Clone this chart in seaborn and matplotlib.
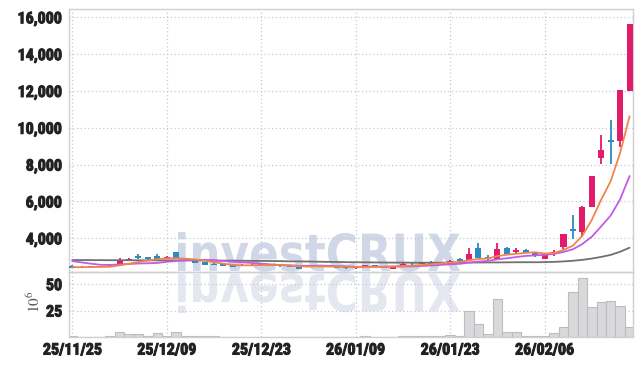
import numpy as np
import pandas as pd
import matplotlib
matplotlib.use("Agg")
import matplotlib.pyplot as plt
import matplotlib.patheffects as pe
import seaborn as sns
from matplotlib import font_manager as fm
from matplotlib.textpath import TextPath
from matplotlib.patches import PathPatch
from matplotlib.font_manager import FontProperties
from matplotlib.transforms import Affine2D, IdentityTransform

# ---------------- data ----------------
date_ticks = [0, 10, 20, 30, 40, 50]
date_labels = ["25/11/25", "25/12/09", "25/12/23", "26/01/09", "26/01/23", "26/02/06"]

opens = [2514, 2406, 2478, 2440, 2605, 2532, 2786, 3057, 3003, 3039,
         2894, 3256, 2858, 2786, 2713, 2623, 2605, 2532, 2478, 2496,
         2551, 2587, 2551, 2514, 2460, 2460, 2460, 2496, 2460, 2442,
         2370, 2478, 2532, 2496, 2351, 2478, 2623, 2587, 2695, 2623,
         2586, 2894, 2821, 3491, 3003, 2894, 3491, 3238, 3383, 3202,
         2894, 3129, 3509, 4505, 4324, 5718, 8379, 9338, 9302, 12017]
closes = [2406, 2460, 2424, 2460, 2532, 2786, 2876, 2912, 2858, 2894,
          3003, 2912, 2804, 2659, 2569, 2569, 2514, 2460, 2550, 2568,
          2641, 2496, 2478, 2442, 2351, 2551, 2551, 2442, 2388, 2370,
          2460, 2551, 2478, 2406, 2460, 2587, 2587, 2695, 2623, 2713,
          2785, 2785, 3147, 2948, 2858, 3437, 3147, 3383, 3220, 3021,
          3093, 3274, 4233, 4379, 5718, 7401, 8795, 9248, 12053, 15637]
highs = [2540, 2478, 2490, 2470, 2620, 2912, 2949, 3148, 3010, 3130,
         3040, 3260, 2870, 2820, 2730, 2680, 2620, 2545, 2600, 2580,
         2660, 2600, 2570, 2530, 2470, 2560, 2570, 2510, 2470, 2450,
         2480, 2570, 2545, 2510, 2470, 2641, 2713, 2710, 2750, 2730,
         2800, 2948, 3455, 3727, 3090, 3727, 3545, 3455, 3400, 3220,
         3110, 3365, 4240, 5265, 5730, 7410, 9591, 10424, 12060, 15640]
lows = [2370, 2390, 2410, 2430, 2520, 2496, 2750, 2858, 2840, 2880,
        2860, 2900, 2790, 2640, 2550, 2530, 2500, 2440, 2470, 2480,
        2540, 2480, 2460, 2430, 2340, 2450, 2440, 2430, 2370, 2360,
        2360, 2470, 2460, 2390, 2340, 2470, 2569, 2580, 2610, 2610,
        2570, 2770, 2800, 2930, 2768, 2858, 3130, 3147, 3200, 2966,
        2880, 3057, 3419, 3962, 4089, 5700, 8017, 8053, 8976, 12000]
# volume in millions of shares
volumes = [1.0, 0.2, 0.2, 0.3, 0.7, 5.0, 3.2, 3.2, 0.7, 4.2,
           0.7, 5.0, 0.7, 0.5, 0.5, 0.5, 0.2, 0.2, 0.2, 0.2,
           0.2, 0.2, 0.2, 0.2, 0.2, 0.2, 0.2, 0.2, 0.2, 0.2,
           0.2, 0.7, 0.3, 0.3, 0.3, 1.3, 1.3, 1.3, 1.3, 0.5,
           1.5, 0.7, 24.5, 12.7, 2.5, 35.6, 5.0, 5.0, 1.3, 1.3,
           1.3, 3.8, 9.0, 42.5, 56.0, 28.0, 32.7, 33.7, 29.2, 9.9]
ma5 = [2430, 2430, 2440, 2445, 2456, 2532, 2616, 2713, 2793, 2865,
       2909, 2916, 2894, 2854, 2789, 2703, 2623, 2554, 2532, 2532,
       2547, 2543, 2547, 2525, 2482, 2464, 2475, 2467, 2457, 2460,
       2442, 2442, 2449, 2453, 2471, 2496, 2504, 2547, 2590, 2641,
       2681, 2720, 2811, 2876, 2905, 3035, 3107, 3155, 3209, 3242,
       3173, 3198, 3368, 3600, 4139, 5001, 6105, 7108, 8643, 10627]
ma10 = [2760, 2690, 2620, 2560, 2550, 2580, 2610, 2630, 2645, 2661,
        2721, 2766, 2804, 2824, 2827, 2806, 2769, 2724, 2693, 2661,
        2625, 2583, 2550, 2529, 2507, 2505, 2509, 2507, 2491, 2471,
        2453, 2458, 2458, 2455, 2466, 2469, 2473, 2498, 2522, 2556,
        2589, 2612, 2679, 2733, 2773, 2858, 2914, 2983, 3042, 3073,
        3104, 3153, 3261, 3405, 3691, 4087, 4652, 5238, 6122, 7383]
ma60 = [2820, 2820, 2815, 2815, 2810, 2810, 2810, 2805, 2805, 2800,
        2800, 2800, 2800, 2795, 2795, 2790, 2790, 2785, 2780, 2775,
        2770, 2765, 2760, 2750, 2745, 2740, 2730, 2720, 2715, 2705,
        2700, 2695, 2690, 2685, 2680, 2680, 2675, 2675, 2675, 2675,
        2680, 2680, 2685, 2685, 2690, 2690, 2695, 2700, 2700, 2700,
        2705, 2720, 2745, 2780, 2830, 2900, 2990, 3100, 3270, 3490]
price_ticks = [4000, 6000, 8000, 10000, 12000, 14000, 16000]
vol_ticks = [25, 50]

# ---------------- style ----------------
sns.set_theme(style="white")
plt.rcParams['font.family'] = ['DejaVu Sans']
plt.rcParams['mathtext.fontset'] = 'stix'


def _w(f):
    w = f.weight
    if isinstance(w, str):
        w = fm.weight_dict.get(w, 400)
    return w


def pick_narrow_font():
    tl = fm.fontManager.ttflist
    tests = [
        lambda f: f.name == 'Liberation Sans Narrow' and _w(f) >= 600 and f.style == 'normal',
        lambda f: 'Roboto Condensed' in f.name and 500 <= _w(f) <= 700 and f.style == 'normal',
        lambda f: f.stretch in ('condensed', 'semi-condensed') and _w(f) >= 600 and f.style == 'normal',
        lambda f: f.name == 'Liberation Sans Narrow' and f.style == 'normal',
        lambda f: 'Condensed' in f.name and f.style == 'normal',
        lambda f: f.stretch in ('condensed', 'semi-condensed') and f.style == 'normal',
    ]
    for t in tests:
        for f in tl:
            try:
                if t(f):
                    return f.fname
            except Exception:
                pass
    return None


narrow = pick_narrow_font()
if narrow:
    tick_fp = FontProperties(fname=narrow, size=11.5)
else:
    tick_fp = FontProperties(family='DejaVu Sans', size=8.5)

UP = '#e31b6b'
DOWN = '#2b8bc3'
GRID = '#c3c8dc'
SPINE = '#cfcfd4'
TXT = '#222222'

n = len(closes)
idx = np.arange(n)
df = pd.DataFrame({'i': idx, 'open': opens, 'close': closes, 'high': highs,
                   'low': lows, 'vol': volumes, 'ma5': ma5, 'ma10': ma10, 'ma60': ma60})

fig = plt.figure(figsize=(6.42, 3.66), dpi=100)
W, Hpx = 642, 366
L = 69 / W
R = 633 / W
ax = fig.add_axes([L, 1 - 272 / Hpx, R - L, (272 - 9.3) / Hpx])
axv = fig.add_axes([L, 1 - 337 / Hpx, R - L, (337 - 272) / Hpx], sharex=ax)
for a in (ax, axv):
    a.set_facecolor('none')

# watermark (behind axes)
fp = FontProperties(family='DejaVu Sans', weight='bold')
tp = TextPath((0, 0), "investCRUX", size=100, prop=fp)
ext = tp.get_extents()
x0p, x1p = 178, 460
base = Hpx - 271
topp = Hpx - 232
sx = (x1p - x0p) / ext.width
sy = (topp - base) / ext.y1
tr = Affine2D().translate(-ext.x0, 0).scale(sx, sy).translate(x0p, base)
fig.add_artist(PathPatch(tr.transform_path(tp), transform=IdentityTransform(),
                         facecolor='#d0d7e6', edgecolor='none', zorder=-5))
tr2 = Affine2D().translate(-ext.x0, 0).scale(sx, -sy).translate(x0p, base - 3)
fig.add_artist(PathPatch(tr2.transform_path(tp), transform=IdentityTransform(),
                         facecolor='#e4e7f0', edgecolor='none', zorder=-5))

# candles
colors = [UP if c >= o else DOWN for o, c in zip(df['open'], df['close'])]
ax.vlines(df['i'], df['low'], df['high'], colors=colors, linewidth=1.3, zorder=2)
body_bottom = np.minimum(df['open'], df['close'])
body_h = np.maximum(np.abs(df['close'] - df['open']), 40)
ax.bar(df['i'], body_h, bottom=body_bottom, width=0.64, color=colors,
       edgecolor='none', zorder=3)

# moving averages
sns.lineplot(data=df, x='i', y='ma60', ax=ax, color='#707070', linewidth=1.3, zorder=4)
sns.lineplot(data=df, x='i', y='ma10', ax=ax, color='#c65ae8', linewidth=1.3, zorder=4)
sns.lineplot(data=df, x='i', y='ma5', ax=ax, color='#f0844c', linewidth=1.3, zorder=4)

# volume
sns.barplot(data=df, x='i', y='vol', ax=axv, native_scale=True, width=1.0,
            color='#d9d9db', saturation=1, edgecolor='#bdbdc0', linewidth=0.8,
            errorbar=None, zorder=2)

# axes formatting
ax.set_xlim(-0.35, n - 1 + 0.36)
ax.set_ylim(2170, 16435)
axv.set_ylim(0, 61.5)

ax.set_yticks(price_ticks)
ax.set_yticklabels([f"{v:,}" for v in price_ticks])
axv.set_yticks(vol_ticks)
axv.set_yticklabels([str(v) for v in vol_ticks])
axv.set_xticks(date_ticks)
axv.set_xticklabels(date_labels)
ax.tick_params(axis='x', labelbottom=False, length=0)

bold_fx = [pe.withStroke(linewidth=0.7, foreground=TXT)]
for a in (ax, axv):
    a.set_xlabel('')
    a.set_ylabel('')
    a.grid(True, linestyle=(0, (1, 2)), color=GRID, linewidth=0.9)
    a.set_axisbelow(True)
    a.tick_params(axis='both', length=0, labelcolor=TXT, pad=5)
    for lab in a.get_yticklabels() + a.get_xticklabels():
        lab.set_fontproperties(tick_fp)
        lab.set_color(TXT)
        lab.set_path_effects(bold_fx)
    for s in a.spines.values():
        s.set_color(SPINE)
        s.set_linewidth(1.0)
axv.tick_params(axis='x', pad=4)

fig.text(34 / W, 1 - 302 / Hpx, r'$10^6$', rotation=90, ha='center', va='center',
         fontsize=11, color='#555555')

fig.savefig('out.png', dpi=100, facecolor='white')
